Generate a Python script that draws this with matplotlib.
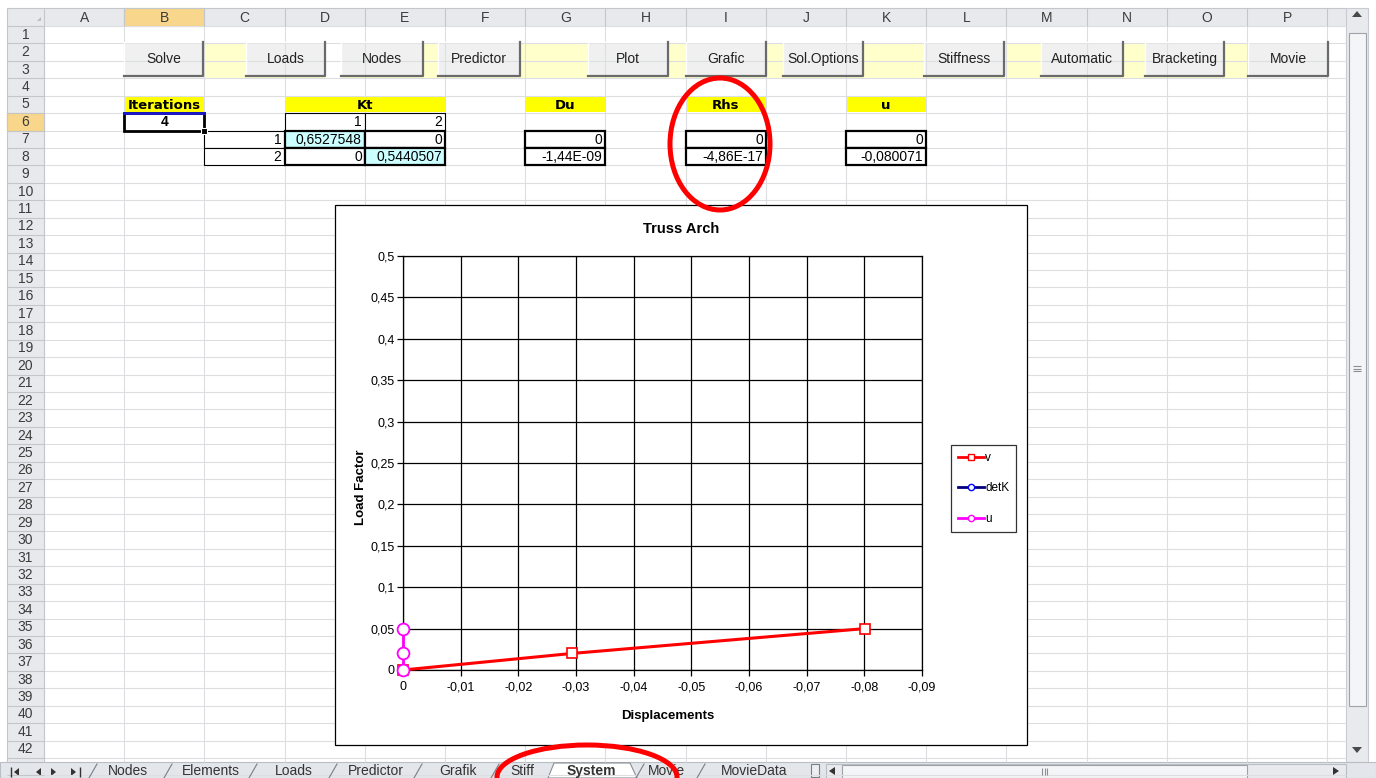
import matplotlib
matplotlib.use('Agg')
import matplotlib.pyplot as plt
from matplotlib.patches import Rectangle, Ellipse, Polygon
from matplotlib.lines import Line2D
from matplotlib.ticker import FuncFormatter

plt.rcParams['font.family'] = ['Liberation Sans', 'DejaVu Sans']

# chart series (Truss Arch)
disp_v = [0, -0.0293, -0.080071]
load_v = [0, 0.02, 0.05]
disp_detk = []
load_detk = []
disp_u = [0, 0, 0]
load_u = [0, 0.02, 0.05]
x_ticks = [0, -0.01, -0.02, -0.03, -0.04, -0.05, -0.06, -0.07, -0.08, -0.09]
y_ticks = [0, 0.05, 0.1, 0.15, 0.2, 0.25, 0.3, 0.35, 0.4, 0.45, 0.5]

# sheet content
columns = ['A', 'B', 'C', 'D', 'E', 'F', 'G', 'H', 'I', 'J', 'K', 'L', 'M', 'N', 'O', 'P']
buttons = ['Solve', 'Loads', 'Nodes', 'Predictor', 'Plot', 'Grafic', 'Sol.Options',
           'Stiffness', 'Automatic', 'Bracketing', 'Movie']
iterations = '4'
kt_index = ['1', '2']
kt = [['0,6527548', '0'], ['0', '0,5440507']]
du = ['0', '-1,44E-09']
rhs = ['0', '-4,86E-17']
u_vals = ['0', '-0,080071']
sheet_tabs = ['Nodes', 'Elements', 'Loads', 'Predictor', 'Grafik', 'Stiff', 'System', 'Movie', 'MovieData']
active_tab = 'System'

W, H = 1376, 778
fig = plt.figure(figsize=(W / 100, H / 100), dpi=100)
bg = fig.add_axes([0, 0, 1, 1])
bg.set_xlim(0, W)
bg.set_ylim(H, 0)
bg.axis('off')

# sheet geometry in pixels
X0, CW = 44, 80.2
Y0, RH = 26, 17.43
XR = 1346          # right end of cells (scrollbar starts)
YB = 762           # bottom of cells (tab bar starts)


def cx(i):
    return X0 + i * CW


def ry(r):
    return Y0 + (r - 1) * RH


grid_c = '#dcdee1'
bg.vlines([cx(i) for i in range(17)], Y0, YB, color=grid_c, lw=0.8)
bg.hlines([ry(r) for r in range(1, 45)], X0, XR, color=grid_c, lw=0.8)

# header row and row numbers
hdr_c, hdr_line = '#e7e9ec', '#c3c7cc'
bg.add_patch(Rectangle((7, 8), XR - 7, Y0 - 8, fc=hdr_c, ec='none'))
bg.add_patch(Rectangle((7, Y0), X0 - 7, YB - Y0, fc=hdr_c, ec='none'))
bg.add_patch(Rectangle((cx(1), 8), CW, Y0 - 8, fc='#f8d68c', ec='#f0b64c', lw=0.8))
bg.add_patch(Rectangle((7, ry(6)), X0 - 7, RH, fc='#f8d68c', ec='#f0b64c', lw=0.8))
bg.vlines([cx(i) for i in range(17)] + [7], 8, Y0, color=hdr_line, lw=0.8)
bg.hlines([ry(r) for r in range(1, 45)], 7, X0, color=hdr_line, lw=0.8)
bg.vlines([7, X0], Y0, YB, color=hdr_line, lw=0.8)
bg.hlines([8], 7, XR, color=hdr_line, lw=0.8)
bg.add_patch(Polygon([[37, 21], [41, 21], [41, 17]], closed=True, fc='#b8bcc2', ec='none'))
for i, c in enumerate(columns):
    bg.text(cx(i) + CW / 2, 17.5, c, ha='center', va='center', fontsize=10, color='#3c3c3c')
for r in range(1, 43):
    bg.text(25.5, ry(r) + RH / 2, str(r), ha='center', va='center', fontsize=10, color='#3c3c3c')

# light yellow band behind the buttons (rows 2-3)
for xa, xb in [(204, 325), (341, 1248)]:
    bg.add_patch(Rectangle((xa, ry(2) + 0.5), xb - xa, 2 * RH - 1, fc='#ffffcc', ec='none'))

btn_x = [(124, 203), (246, 325), (341, 423), (438, 520), (588, 668), (686, 766),
         (783, 863), (924, 1004), (1041, 1123), (1145, 1224), (1248, 1328)]
for name, (xa, xb) in zip(buttons, btn_x):
    bg.add_patch(Rectangle((xa, 42), xb - xa, 34, fc='#f0f0f0', ec='none'))
    bg.plot([xa, xa, xb], [76, 42, 42], color='#ffffff', lw=1)
    bg.plot([xa, xb, xb], [76, 76, 42], color='#6a6a6a', lw=1.6)
    bg.text((xa + xb) / 2, 59, name, ha='center', va='center', fontsize=10, color='#222222')

# row 5 yellow headings
bold = dict(fontsize=9.5, fontweight='bold', family='DejaVu Sans', ha='center', va='center')
for label, ca, cb in [('Iterations', 1, 2), ('Kt', 3, 5), ('Du', 6, 7), ('Rhs', 8, 9), ('u', 10, 11)]:
    bg.add_patch(Rectangle((cx(ca) + 1, ry(5) + 1), cx(cb) - cx(ca) - 1, RH - 2, fc='#ffff00', ec='none'))
    bg.text((cx(ca) + cx(cb)) / 2, ry(5) + RH / 2 + 1, label, **bold)


def box(col, row, text, lw=0.8, fc='white', ha='right', weight='normal'):
    x, y = cx(col), ry(row)
    bg.add_patch(Rectangle((x, y), CW, RH, fc=fc, ec='black', lw=lw, zorder=3))
    tx = x + CW - 3 if ha == 'right' else x + CW / 2
    bg.text(tx, y + RH / 2 + 0.5, text, ha=ha, va='center', fontsize=10,
            fontweight=weight, color='black', zorder=4)


# iterations cell (selected)
box(1, 6, iterations, lw=2.0, ha='center', weight='bold')
bg.plot([cx(1), cx(2)], [ry(6), ry(6)], color='#1a1acc', lw=2, zorder=5)
bg.add_patch(Rectangle((cx(2) - 3, ry(7) - 3), 6, 6, fc='black', ec='white', lw=0.8, zorder=6))

# Kt matrix
for j, t in enumerate(kt_index):
    box(3 + j, 6, t)
    box(2, 7 + j, t)
for i in range(2):
    for j in range(2):
        box(3 + j, 7 + i, kt[i][j], lw=1.6, fc='#ccffff' if i == j else 'white')
for col, vals in [(6, du), (8, rhs), (10, u_vals)]:
    for i, t in enumerate(vals):
        box(col, 7 + i, t, lw=1.6)

# vertical scrollbar
bg.add_patch(Rectangle((XR, 8), 22, YB - 8, fc='#e8eaed', ec='#c8ccd1', lw=0.8))
bg.add_patch(Rectangle((1349, 33), 17, 673, fc='#f4f5f7', ec='#9ea3aa', lw=0.8))
bg.add_patch(Polygon([[1352, 17], [1362, 17], [1357, 11]], closed=True, fc='#4a4a4a', ec='none'))
bg.add_patch(Polygon([[1352, 747], [1362, 747], [1357, 753]], closed=True, fc='#4a4a4a', ec='none'))
bg.hlines([366, 368.5, 371], 1353, 1361, color='#8a8f96', lw=0.8)

# sheet tabs bar
bg.add_patch(Rectangle((0, YB), W, H - YB, fc='#e3e6ea', ec='#b9bec5', lw=0.8))
for x0, d in [(14, -1), (36, -1), (56, 1), (76, 1)]:
    bg.add_patch(Polygon([[x0, 772], [x0 - 5 * d, 768], [x0 - 5 * d, 776]], closed=True,
                         fc='#333333', ec='none'))
bg.vlines([11, 80], 767, 777, color='#333333', lw=1)
tab_x = [128, 211, 294, 376, 458, 522, 591, 666, 754]
bg.add_patch(Polygon([[548, 778], [554, 763], [630, 763], [637, 778]], closed=True,
                     fc='white', ec='#8a8f96', lw=0.8))
for name, x in zip(sheet_tabs, tab_x):
    bg.text(x, 771, name, ha='center', va='center', fontsize=10, color='#333333',
            fontweight='bold' if name == active_tab else 'normal')
for xs in [93, 168, 253, 333, 418, 495, 640, 701]:
    bg.plot([xs - 4, xs + 4], [778, 764], color='#7a7f86', lw=0.8)
bg.add_patch(Rectangle((811, 764), 8, 13, fc='#eceef1', ec='#7a7f86', lw=0.8))
bg.add_patch(Rectangle((826, 764), XR - 826, 14, fc='#e8eaed', ec='#b9bec5', lw=0.8))
bg.add_patch(Polygon([[829, 771], [835, 767], [835, 775]], closed=True, fc='#333333', ec='none'))
bg.add_patch(Rectangle((842, 765), 405, 13, fc='#f4f5f7', ec='#9ea3aa', lw=0.8))
bg.vlines([1042, 1044.5, 1047], 768, 775, color='#8a8f96', lw=0.8)
bg.add_patch(Polygon([[1339, 771], [1333, 767], [1333, 775]], closed=True, fc='#333333', ec='none'))

# chart object frame
bg.add_patch(Rectangle((335, 205), 692, 540, fc='white', ec='black', lw=0.9, zorder=7))

# chart plot area
ax = fig.add_axes([403 / W, 1 - 670 / H, 519 / W, 414 / H])
ax.plot(disp_v, load_v, color='#ff0000', lw=2.2, marker='s', ms=7, mfc='white',
        mec='#ff0000', mew=1.2, clip_on=False, zorder=4)
ax.plot(disp_detk, load_detk, color='#000080', lw=2, marker='o', ms=5, mfc='white', mec='#0000ff')
ax.plot(disp_u, load_u, color='#ff00ff', lw=2, marker='o', ms=8.5, mfc='white',
        mec='#ff00ff', mew=1.3, clip_on=False, zorder=5)
ax.set_xlim(0, -0.09)
ax.set_ylim(0, 0.5)
ax.set_xticks(x_ticks)
ax.set_yticks(y_ticks)
fmt = FuncFormatter(lambda v, p: f'{v:g}'.replace('.', ','))
ax.xaxis.set_major_formatter(fmt)
ax.yaxis.set_major_formatter(fmt)
ax.grid(True, color='black', lw=0.9)
ax.set_axisbelow(True)
ax.tick_params(direction='out', length=4, width=0.9, color='black', labelsize=9, pad=2)
ax.tick_params(axis='x', pad=4)
for s in ax.spines.values():
    s.set_color('black')
    s.set_linewidth(0.9)
ax.text(0.536, 1.065, 'Truss Arch', transform=ax.transAxes, ha='center', va='center',
        fontsize=10.5, fontweight='bold')
ax.set_xlabel('Displacements', fontsize=9.5, fontweight='bold')
ax.xaxis.set_label_coords(0.511, -0.111)
ax.set_ylabel('Load Factor', fontsize=9.5, fontweight='bold')
ax.yaxis.set_label_coords(-0.081, 0.442)
ax.xaxis.label.set_va('center')
ax.yaxis.label.set_va('center')

handles = [
    Line2D([], [], color='#ff0000', lw=2, marker='s', ms=5, mfc='white', mec='#ff0000'),
    Line2D([], [], color='#000080', lw=2, marker='o', ms=4.5, mfc='white', mec='#0000ff'),
    Line2D([], [], color='#ff00ff', lw=2, marker='o', ms=4.5, mfc='white', mec='#ff00ff'),
]
leg = ax.legend(handles, ['v', 'detK', 'u'], loc='upper left',
                bbox_to_anchor=(951 / W, 1 - 445 / H), bbox_transform=fig.transFigure,
                fontsize=8.5, frameon=True, fancybox=False, handlelength=2.2,
                handletextpad=0.1, labelspacing=1.55, borderpad=0.6, borderaxespad=0)
leg.get_frame().set_edgecolor('black')
leg.get_frame().set_linewidth(0.9)

# red hand-drawn highlight ellipses on top
ov = fig.add_axes([0, 0, 1, 1])
ov.set_xlim(0, W)
ov.set_ylim(H, 0)
ov.axis('off')
ov.add_patch(Ellipse((720, 144), 100, 132, fill=False, ec='#ff0000', lw=3.6))
ov.add_patch(Ellipse((587, 777), 180, 64, fill=False, ec='#ff0000', lw=3.6))

fig.savefig('out.png', dpi=100)
